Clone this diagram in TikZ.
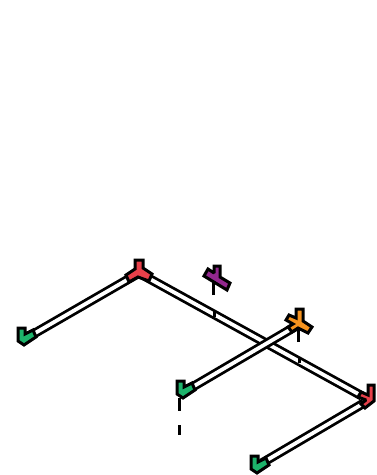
\documentclass[tikz,border=0pt]{standalone}
\tikzset{
  pipe/.style={double=white, double distance=3.8pt, line width=2.8pt, line cap=butt},
  riser/.style={line width=3pt},
  fitting/.style={draw=black, line width=3pt, line join=miter, miter limit=2},
}
\definecolor{elbowgreen}{HTML}{1DB36B}
\definecolor{teered}{HTML}{E8404A}
\definecolor{crossorange}{HTML}{F7931E}
\definecolor{crosspurple}{HTML}{93278F}
\begin{document}
\begin{tikzpicture}[x=1pt,y=-1pt]
  \useasboundingbox (0,0) rectangle (376,475);
  % pipe ends
  \coordinate (elbowA) at (30,336);
  \coordinate (teeA) at (139,273);
  \coordinate (elbowB) at (362,396);
  \coordinate (elbowBlow) at (364,403);
  \coordinate (elbowC) at (189,389);
  \coordinate (crossA) at (298,325);
  \coordinate (elbowD) at (262,463);
  \coordinate (tapA) at (214,311);
  \coordinate (tapB) at (299,357);
  \coordinate (purpleEnd) at (213.7,295);
  \coordinate (orangeEnd) at (298.7,342);
  \coordinate (dropTop) at (179.6,398);
  \coordinate (dropEnd) at (179.6,435);
  % pipes
  \draw[pipe] (elbowA) -- (teeA);
  \draw[pipe] (teeA) -- (elbowB);
  \draw[pipe] (elbowD) -- (elbowBlow);
  \draw[pipe] (elbowC) -- (crossA);
  % risers
  \draw[riser] (purpleEnd) -- ++(0,-20);
  \draw[riser] (tapA) -- ++(0,6);
  \draw[riser] (orangeEnd) -- (298.7,325);
  \draw[riser] (tapB) -- ++(0,6);
  \draw[riser, dash pattern=on 13pt off 14pt on 10pt off 20pt] (dropTop) -- (dropEnd);
  % fittings
  \draw[fitting, fill=teered] (135,260) -- (143,260) -- (143,268) -- (152,274) -- (149,281) -- (138,277) -- (129,282) -- (126,275) -- (135,269) -- cycle;
  \draw[fitting, fill=elbowgreen] (18,328) -- (25,328) -- (25,334) -- (33,330) -- (36,337) -- (24,345) -- (18,341) -- cycle;
  \draw[fitting, fill=elbowgreen] (177,381) -- (184,381) -- (184,387) -- (192,383) -- (195,390) -- (183,398) -- (177,394) -- cycle;
  \draw[fitting, fill=elbowgreen] (251,456) -- (258,456) -- (258,462) -- (266,458) -- (269,465) -- (257,473) -- (251,469) -- cycle;
  \draw[fitting, fill=teered] (368,385) -- (374,385) -- (374,401) -- (365,408) -- (361,404) -- (366,400) -- (358,397) -- (361,392) -- (368,395) -- cycle;
  \draw[fitting, fill=crossorange] (296,309) -- (303,309) -- (303,321) -- (312,327) -- (308,333) -- (298,328) -- (292,332) -- (288,327) -- (293,324) -- (286,320) -- (289,315) -- (296,318) -- cycle;
  \draw[fitting, fill=crosspurple] (214,266) -- (220,266) -- (220,277) -- (230,283) -- (227,290) -- (204,276) -- (208,269) -- (214,273) -- cycle;
\end{tikzpicture}
\end{document}
